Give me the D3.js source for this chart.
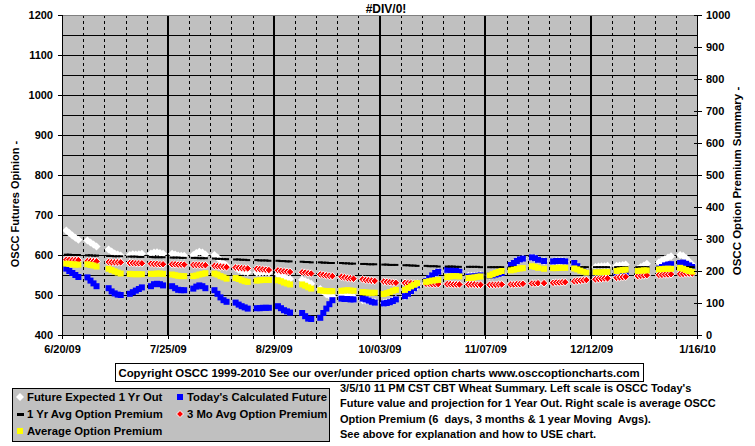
<!DOCTYPE html>
<html><head><meta charset="utf-8">
<script src="https://cdn.jsdelivr.net/npm/d3@7"></script>
<style>
body{margin:0;background:#fff;}
svg text{font-family:"Liberation Sans",Arial,sans-serif;font-weight:bold;font-size:11px;fill:#000;}
</style></head><body>
<svg id="c" width="755" height="446"></svg>
<script>
// ---------- DATA ----------
const title = "#DIV/0!";
const weekStarts = ["2009-06-22","2009-06-29","2009-07-06","2009-07-13","2009-07-20","2009-07-27","2009-08-03","2009-08-10","2009-08-17","2009-08-24",
  "2009-08-31","2009-09-07","2009-09-14","2009-09-21","2009-09-28","2009-10-05","2009-10-12","2009-10-19","2009-10-26","2009-11-02",
  "2009-11-09","2009-11-16","2009-11-23","2009-11-30","2009-12-07","2009-12-14","2009-12-21","2009-12-28","2010-01-04","2010-01-11"];
const holidays = ["2009-07-03","2009-09-07","2009-11-26","2009-12-25","2010-01-01"];
const xTickLabels = ["6/20/09","7/25/09","8/29/09","10/03/09","11/07/09","12/12/09","1/16/10"];
const leftTicks = [400,500,600,700,800,900,1000,1100,1200];
const rightTicks = [0,100,200,300,400,500,600,700,800,900,1000];

// Future Expected 1 Yr Out (left scale)
const futureExpected = [
 [661,655,649,643,638],[636,631,626,621],[614,609,604,601,599],[600,602,601,602,603],[604,606,607,605,603],
 [603,601,599,598,598],[600,605,608,606,601],[600,594,587,580,573],[568,563,560,558,557],[556,556,557,557,556],
 [552,548,545,542,540],[538,535,532,528],[515,508,502,498,497],[498,497,496,496,495],[487,486,485,484,483],
 [480,481,483,486,490],[496,503,510,516,521],[535,542,549,555,558],[563,563,562,560,558],[548,548,548,549,550],
 [548,549,551,553,555],[575,580,585,589,591],[594,592,588,585],[584,585,585,585,584],[578,572,566,562,560],
 [570,571,572,572,573],[573,574,575,576],[565,570,574,578],[582,586,590,594,597],[600,598,592,584,576]];
// Today's Calculated Future (left scale)
const todayCalc = [
 [566,560,555,550,545],[544,536,529,522],[517,509,504,501,500],[503,507,511,515,519],[522,527,528,527,524],
 [522,517,513,512,512],[516,521,524,522,517],[512,503,494,487,483],[481,476,472,469,466],[467,467,468,468,468],
 [472,467,462,459,456],[455,447,441,440],[443,455,466,477,487],[491,490,490,489,489],[491,489,486,483,481],
 [479,480,482,485,489],[497,503,510,517,524],[535,542,549,555,558],[563,563,562,560,558],[546,546,547,548,549],
 [548,549,551,553,555],[575,580,585,589,591],[594,592,588,585],[584,585,585,585,584],[580,572,565,560,556],
 [556,556,557,557,557],[555,555,554,553],[560,560,562,563],[566,570,574,576,577],[580,581,578,574,570]];
// 1 Yr Avg Option Premium (right scale)
const yrAvg = [
 [251,251,250,250,250],[249,249,248,248],[247,247,246,246,246],[245,245,245,244,244],[244,243,243,243,243],
 [242,242,242,241,241],[241,241,240,240,240],[239,238,238,237,237],[236,236,235,235,234],[234,233,233,233,232],
 [232,231,231,230,230],[229,228,228,227],[227,226,226,225,225],[225,224,224,223,223],[222,222,221,221,221],
 [220,220,219,219,219],[218,218,217,217,216],[216,215,215,215,214],[214,214,214,213,213],[213,213,213,213,212],
 [212,212,212,212,212],[212,212,212,212,212],[212,212,212,212],[212,212,212,212,212],[212,212,212,212,212],
 [212,212,212,212,212],[212,212,212,212],[212,212,212,212],[212,212,212,212,212],[212,212,212,212,212]];
// 3 Mo Avg Option Premium (right scale)
const moAvg = [
 [235,235,234,234,234],[231,231,230,230],[228,227,227,227,227],[225,225,224,224,224],[223,222,222,221,221],
 [221,221,220,220,220],[219,219,219,218,218],[216,215,214,213,212],[211,210,209,208,208],[207,206,205,204,203],
 [202,200,199,198,197],[196,195,193,192],[189,188,186,185,184],[182,180,178,177,176],[174,172,171,170,169],
 [167,166,165,164,163],[163,162,162,161,161],[160,160,159,159,159],[159,159,158,158,158],[158,158,158,157,157],
 [157,157,157,158,158],[158,158,159,159,160],[161,161,162,162],[163,164,164,165,165],[168,169,170,171,172],
 [174,175,176,177,177],[179,180,181,182],[184,185,186,187],[188,188,189,189,190],[191,191,192,192,192]];
// Average Option Premium (right scale)
const avgPrem = [
 [223,222,221,220,220],[221,219,217,214],[207,203,199,195,192],[191,190,190,190,190],[191,191,192,192,191],
 [189,187,185,184,184],[184,186,189,191,193],[192,189,184,180,176],[178,175,171,168,166],[170,171,172,172,172],
 [171,168,164,161,158],[158,154,149,145],[140,138,137,137,137],[138,139,140,139,138],[134,133,132,132,132],
 [128,131,134,138,141],[141,147,152,157,162],[166,168,170,171,172],[181,183,184,184,183],[178,179,180,182,183],
 [186,190,194,197,200],[202,204,206,208,209],[215,213,210,207],[209,209,210,210,210],[208,205,201,198,195],
 [196,196,196,197,197],[200,202,203,204],[200,201,202,202],[205,206,207,207,207],[210,207,203,200,198]];

const legendItems = [
 {name:"Future Expected 1 Yr Out", kind:"whiteDiamond", col:0, row:0},
 {name:"Today's Calculated Future", kind:"blueSquare", col:1, row:0},
 {name:"1 Yr Avg Option Premium", kind:"blackDash", col:0, row:1},
 {name:"3 Mo Avg Option Premium", kind:"redDiamond", col:1, row:1},
 {name:"Average Option Premium", kind:"yellowSquare", col:0, row:2}];
const copyright = "Copyright OSCC 1999-2010 See our over/under priced option charts www.osccoptioncharts.com";
const notes = ["3/5/10 11 PM CST CBT Wheat Summary. Left scale is OSCC Today's",
 "Future value and projection for 1 Year Out. Right scale is average OSCC",
 "Option Premium (6  days, 3 months & 1 year Moving  Avgs).",
 "See above for explanation and how to USE chart."];
const leftTitle = "OSCC Futures Opinion -";
const rightTitle = "OSCC Option Premium Summary -";

// ---------- BUILD ----------
const parse = d3.timeParse("%Y-%m-%d");
const holidaySet = new Set(holidays);
const fmt = d3.timeFormat("%Y-%m-%d");
const tradingWeeks = weekStarts.map(s => {
  const st = parse(s); const out = [];
  for (let i=0;i<5;i++){ const d = d3.timeDay.offset(st,i); if(!holidaySet.has(fmt(d))) out.push(d); }
  return out;
});
function series(vals){ const r=[]; tradingWeeks.forEach((w,i)=>w.forEach((d,j)=>r.push({date:d,v:vals[i][j]}))); return r; }

const svg = d3.select("#c");
const L=62,R=697,T=15,B=335;
const x = d3.scaleTime().domain([new Date(2009,5,20), new Date(2010,0,16)]).range([L,R]);
const yL = d3.scaleLinear().domain([400,1200]).range([B,T]);
const yR = d3.scaleLinear().domain([0,1000]).range([B,T]);
const px = d => x(d3.timeHour.offset(d,-14));

svg.append("rect").attr("x",L).attr("y",T).attr("width",R-L).attr("height",B-T).attr("fill","#c0c0c0");
const grid = svg.append("g").attr("shape-rendering","crispEdges");
grid.selectAll("line.h").data(d3.range(450,1200,50)).join("line")
  .attr("x1",L).attr("x2",R).attr("y1",d=>Math.round(yL(d))+0.5).attr("y2",d=>Math.round(yL(d))+0.5).attr("stroke","#000");
const weeks = d3.timeSaturday.range(new Date(2009,5,20), new Date(2010,0,17));
const labelDate = s => {const p=s.split("/"); return fmt(new Date(2000+ +p[2], +p[0]-1, +p[1]));};
const majorSet = new Set(xTickLabels.map(labelDate));
weeks.forEach((d,i)=>{
  if(i===0||i===weeks.length-1) return;
  const xx = Math.round(x(d));
  if(majorSet.has(fmt(d))) grid.append("line").attr("x1",xx).attr("x2",xx).attr("y1",T).attr("y2",B).attr("stroke","#000").attr("stroke-width",2);
  else grid.append("line").attr("x1",xx+0.5).attr("x2",xx+0.5).attr("y1",T).attr("y2",B).attr("stroke","#000").attr("stroke-dasharray","3,3");
});
grid.append("line").attr("x1",L).attr("x2",R).attr("y1",T+0.5).attr("y2",T+0.5).attr("stroke","#808080");

// marks
const diamond = r => `M0,${-r}L${r},0L0,${r}L${-r},0Z`;
const gMarks = svg.append("g");
gMarks.selectAll("path.w").data(series(futureExpected)).join("path")
  .attr("d",diamond(4)).attr("transform",d=>`translate(${px(d.date)},${yL(d.v)})`).attr("fill","#fff");
gMarks.selectAll("rect.b").data(series(todayCalc)).join("rect")
  .attr("x",d=>px(d.date)-3).attr("y",d=>yL(d.v)-3).attr("width",6).attr("height",6).attr("fill","#0000ff");
gMarks.selectAll("rect.k").data(series(yrAvg)).join("rect")
  .attr("x",d=>px(d.date)-2.5).attr("y",d=>yR(d.v)-1).attr("width",5).attr("height",2).attr("fill","#000");
gMarks.selectAll("path.r").data(series(moAvg)).join("path")
  .attr("d",diamond(3.8)).attr("transform",d=>`translate(${px(d.date)},${yR(d.v)})`).attr("fill","#ff0000").attr("stroke","#fff").attr("stroke-width",1);
gMarks.selectAll("rect.y").data(series(avgPrem)).join("rect")
  .attr("x",d=>px(d.date)-3).attr("y",d=>yR(d.v)-3).attr("width",6).attr("height",6).attr("fill","#ffff00");

// axes
const axL = svg.append("g").attr("transform",`translate(${L},0)`).call(d3.axisLeft(yL).tickValues(leftTicks).tickFormat(d3.format("d")).tickSize(4).tickPadding(5));
const axR = svg.append("g").attr("transform",`translate(${R},0)`).call(d3.axisRight(yR).tickValues(rightTicks).tickFormat(d3.format("d")).tickSize(5).tickPadding(4));
const axB = svg.append("g").attr("transform",`translate(0,${B})`).call(d3.axisBottom(x).tickValues(weeks)
  .tickFormat(d=>{const i=xTickLabels.findIndex(s=>labelDate(s)===fmt(d));return i>=0?xTickLabels[i]:"";})
  .tickSize(4).tickPadding(6));
[axL,axR,axB].forEach(a=>{a.attr("shape-rendering","crispEdges"); a.selectAll("path,line").attr("stroke","#000"); a.selectAll("text").attr("font-size",null).attr("font-family",null);});
axR.selectAll(".tick line").attr("x1",-3);

svg.append("text").attr("x",386).attr("y",13).attr("text-anchor","middle").style("font-size","12px").text(title);
svg.append("text").attr("transform","translate(19,204) rotate(-90)").attr("text-anchor","middle").style("font-size","11px").text(leftTitle);
svg.append("text").attr("transform","translate(741,181) rotate(-90)").attr("text-anchor","middle").style("font-size","11.5px").text(rightTitle);

// copyright box
svg.append("rect").attr("x",115.5).attr("y",363.5).attr("width",528).attr("height",18).attr("fill","#fff").attr("stroke","#000");
svg.append("text").attr("x",379).attr("y",377).attr("text-anchor","middle").style("font-size","11.4px").text(copyright);

// legend
svg.append("rect").attr("x",12.5).attr("y",388.5).attr("width",317).attr("height",53).attr("fill","#c0c0c0").attr("stroke","#000");
const lg = svg.append("g");
legendItems.forEach(it=>{
  const cx = it.col? 180 : 20, cy = 397 + it.row*17;
  if(it.kind==="whiteDiamond") lg.append("path").attr("d",diamond(4)).attr("transform",`translate(${cx},${cy})`).attr("fill","#fff");
  if(it.kind==="blueSquare") lg.append("rect").attr("x",cx-3).attr("y",cy-3).attr("width",6).attr("height",6).attr("fill","#0000ff");
  if(it.kind==="yellowSquare") lg.append("rect").attr("x",cx-3).attr("y",cy-3).attr("width",6).attr("height",6).attr("fill","#ffff00");
  if(it.kind==="blackDash") lg.append("rect").attr("x",cx-3).attr("y",cy-1).attr("width",7).attr("height",3).attr("fill","#000");
  if(it.kind==="redDiamond") lg.append("path").attr("d",diamond(3.5)).attr("transform",`translate(${cx},${cy})`).attr("fill","#ff0000").attr("stroke","#fff");
  lg.append("text").attr("x",cx+7).attr("y",cy+4).style("font-size","11.3px").text(it.name);
});
notes.forEach((t,i)=>svg.append("text").attr("x",340).attr("y",392+i*15.3).style("white-space","pre").style("font-size","11px").text(t));
</script></body></html>
